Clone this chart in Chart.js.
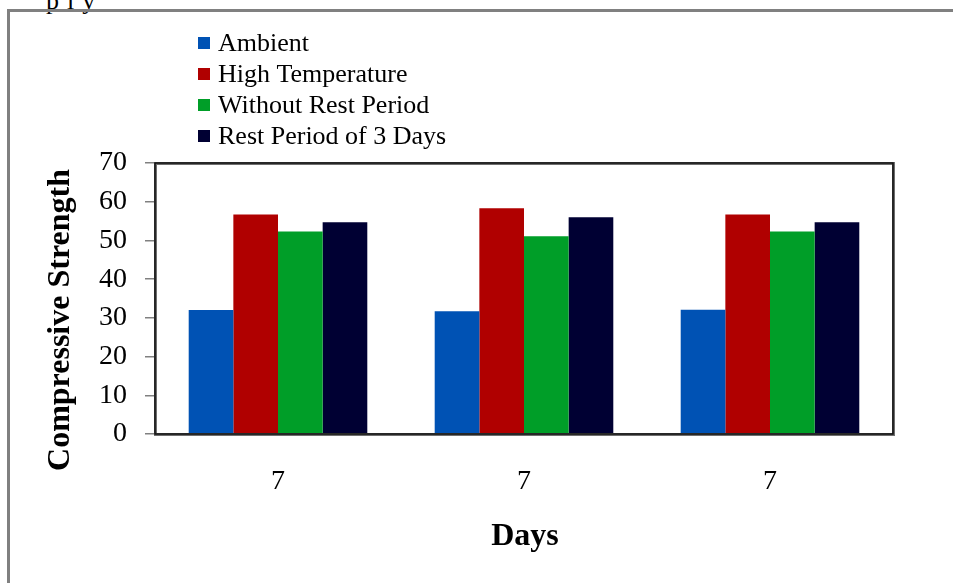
<!DOCTYPE html>
<html>
<head>
<meta charset="utf-8">
<script src="https://cdn.jsdelivr.net/npm/chart.js@4"></script>
<style>
  body { margin: 0; background: #fff; overflow: hidden; }
  #wrap { position: relative; width: 953px; height: 583px; overflow: hidden; }
  #frame { position: absolute; left: 7px; top: 9px; width: 960px; height: 600px;
           border: 3px solid #808080; box-sizing: border-box; }
  #topText { position: absolute; left: 46px; top: -14px; font: 26px "Liberation Serif", serif;
             letter-spacing: 8px; color: #000; }
  canvas { position: absolute; left: 0; top: 0; }
</style>
</head>
<body>
<div id="wrap">
  <div id="topText">ply</div>
  <div id="frame"></div>
  <canvas id="myChart" width="953" height="583"></canvas>
</div>
<script>
// Data
const days = ['7', '7', '7'];
const ambient = [32.0, 31.7, 32.1];
const highTemp = [56.7, 58.3, 56.7];
const withoutRest = [52.3, 51.1, 52.3];
const rest3Days = [54.7, 56.0, 54.7];
const yTicks = [0, 10, 20, 30, 40, 50, 60, 70];

const serif = '"Liberation Serif", "Times New Roman", serif';

// Legend drawn as a stacked list above the plot, like the original
const legendPlugin = {
    id: 'stackedLegend',
    afterDraw(chart) {
        const ctx = chart.ctx;
        ctx.save();
        ctx.font = '26px ' + serif;
        ctx.textBaseline = 'middle';
        chart.data.datasets.forEach((ds, i) => {
            const y = 43 + i * 31;
            ctx.fillStyle = ds.backgroundColor;
            ctx.fillRect(198, y - 6, 12, 12);
            ctx.fillStyle = '#000';
            ctx.fillText(ds.label, 218, y + 1);
        });
        ctx.restore();
    }
};

// Box round the plot area and the two axis titles
const framePlugin = {
    id: 'plotFrame',
    afterDatasetsDraw(chart) {
        const {ctx, chartArea: a} = chart;
        ctx.save();
        ctx.strokeStyle = '#6e6e6e';
        ctx.lineWidth = 3;
        ctx.strokeRect(a.left + 0.5, a.top + 0.5, a.right - a.left, a.bottom - a.top);
        ctx.strokeStyle = '#111';
        ctx.lineWidth = 1.5;
        ctx.strokeRect(a.left, a.top, a.right - a.left, a.bottom - a.top);
        ctx.restore();
    },
    afterDraw(chart) {
        const ctx = chart.ctx;
        ctx.save();
        ctx.fillStyle = '#000';
        ctx.font = 'bold 32px ' + serif;
        ctx.textAlign = 'center';
        ctx.textBaseline = 'middle';
        ctx.fillText('Days', 525, 537);
        ctx.translate(61, 320);
        ctx.rotate(-Math.PI / 2);
        ctx.fillText('Compressive Strength', 0, 0);
        ctx.restore();
    }
};

new Chart(document.getElementById('myChart'), {
    type: 'bar',
    data: {
        labels: days,
        datasets: [
            { label: 'Ambient', data: ambient, backgroundColor: '#0052b4' },
            { label: 'High Temperature', data: highTemp, backgroundColor: '#b00000' },
            { label: 'Without Rest Period', data: withoutRest, backgroundColor: '#009e28' },
            { label: 'Rest Period of 3 Days', data: rest3Days, backgroundColor: '#000033' }
        ]
    },
    options: {
        responsive: false,
        animation: false,
        layout: { padding: { left: 0, top: 163, right: 60, bottom: 0 } },
        datasets: { bar: { categoryPercentage: 0.726, barPercentage: 1.0, borderWidth: 0 } },
        plugins: {
            legend: { display: false },
            tooltip: { enabled: false }
        },
        scales: {
            x: {
                grid: { display: false },
                border: { display: false },
                ticks: { color: '#000', font: { family: serif, size: 28 }, padding: 23 },
                afterFit(scale) { scale.height = 149; }
            },
            y: {
                min: 0,
                max: 70,
                afterBuildTicks(scale) { scale.ticks = yTicks.map(v => ({ value: v })); },
                grid: { drawOnChartArea: false, drawTicks: true, tickLength: 10, color: '#808080', lineWidth: 1.5 },
                border: { display: false },
                ticks: { color: '#000', font: { family: serif, size: 28 }, padding: 18 },
                afterFit(scale) { scale.width = 155; }
            }
        }
    },
    plugins: [legendPlugin, framePlugin]
});
</script>
</body>
</html>
